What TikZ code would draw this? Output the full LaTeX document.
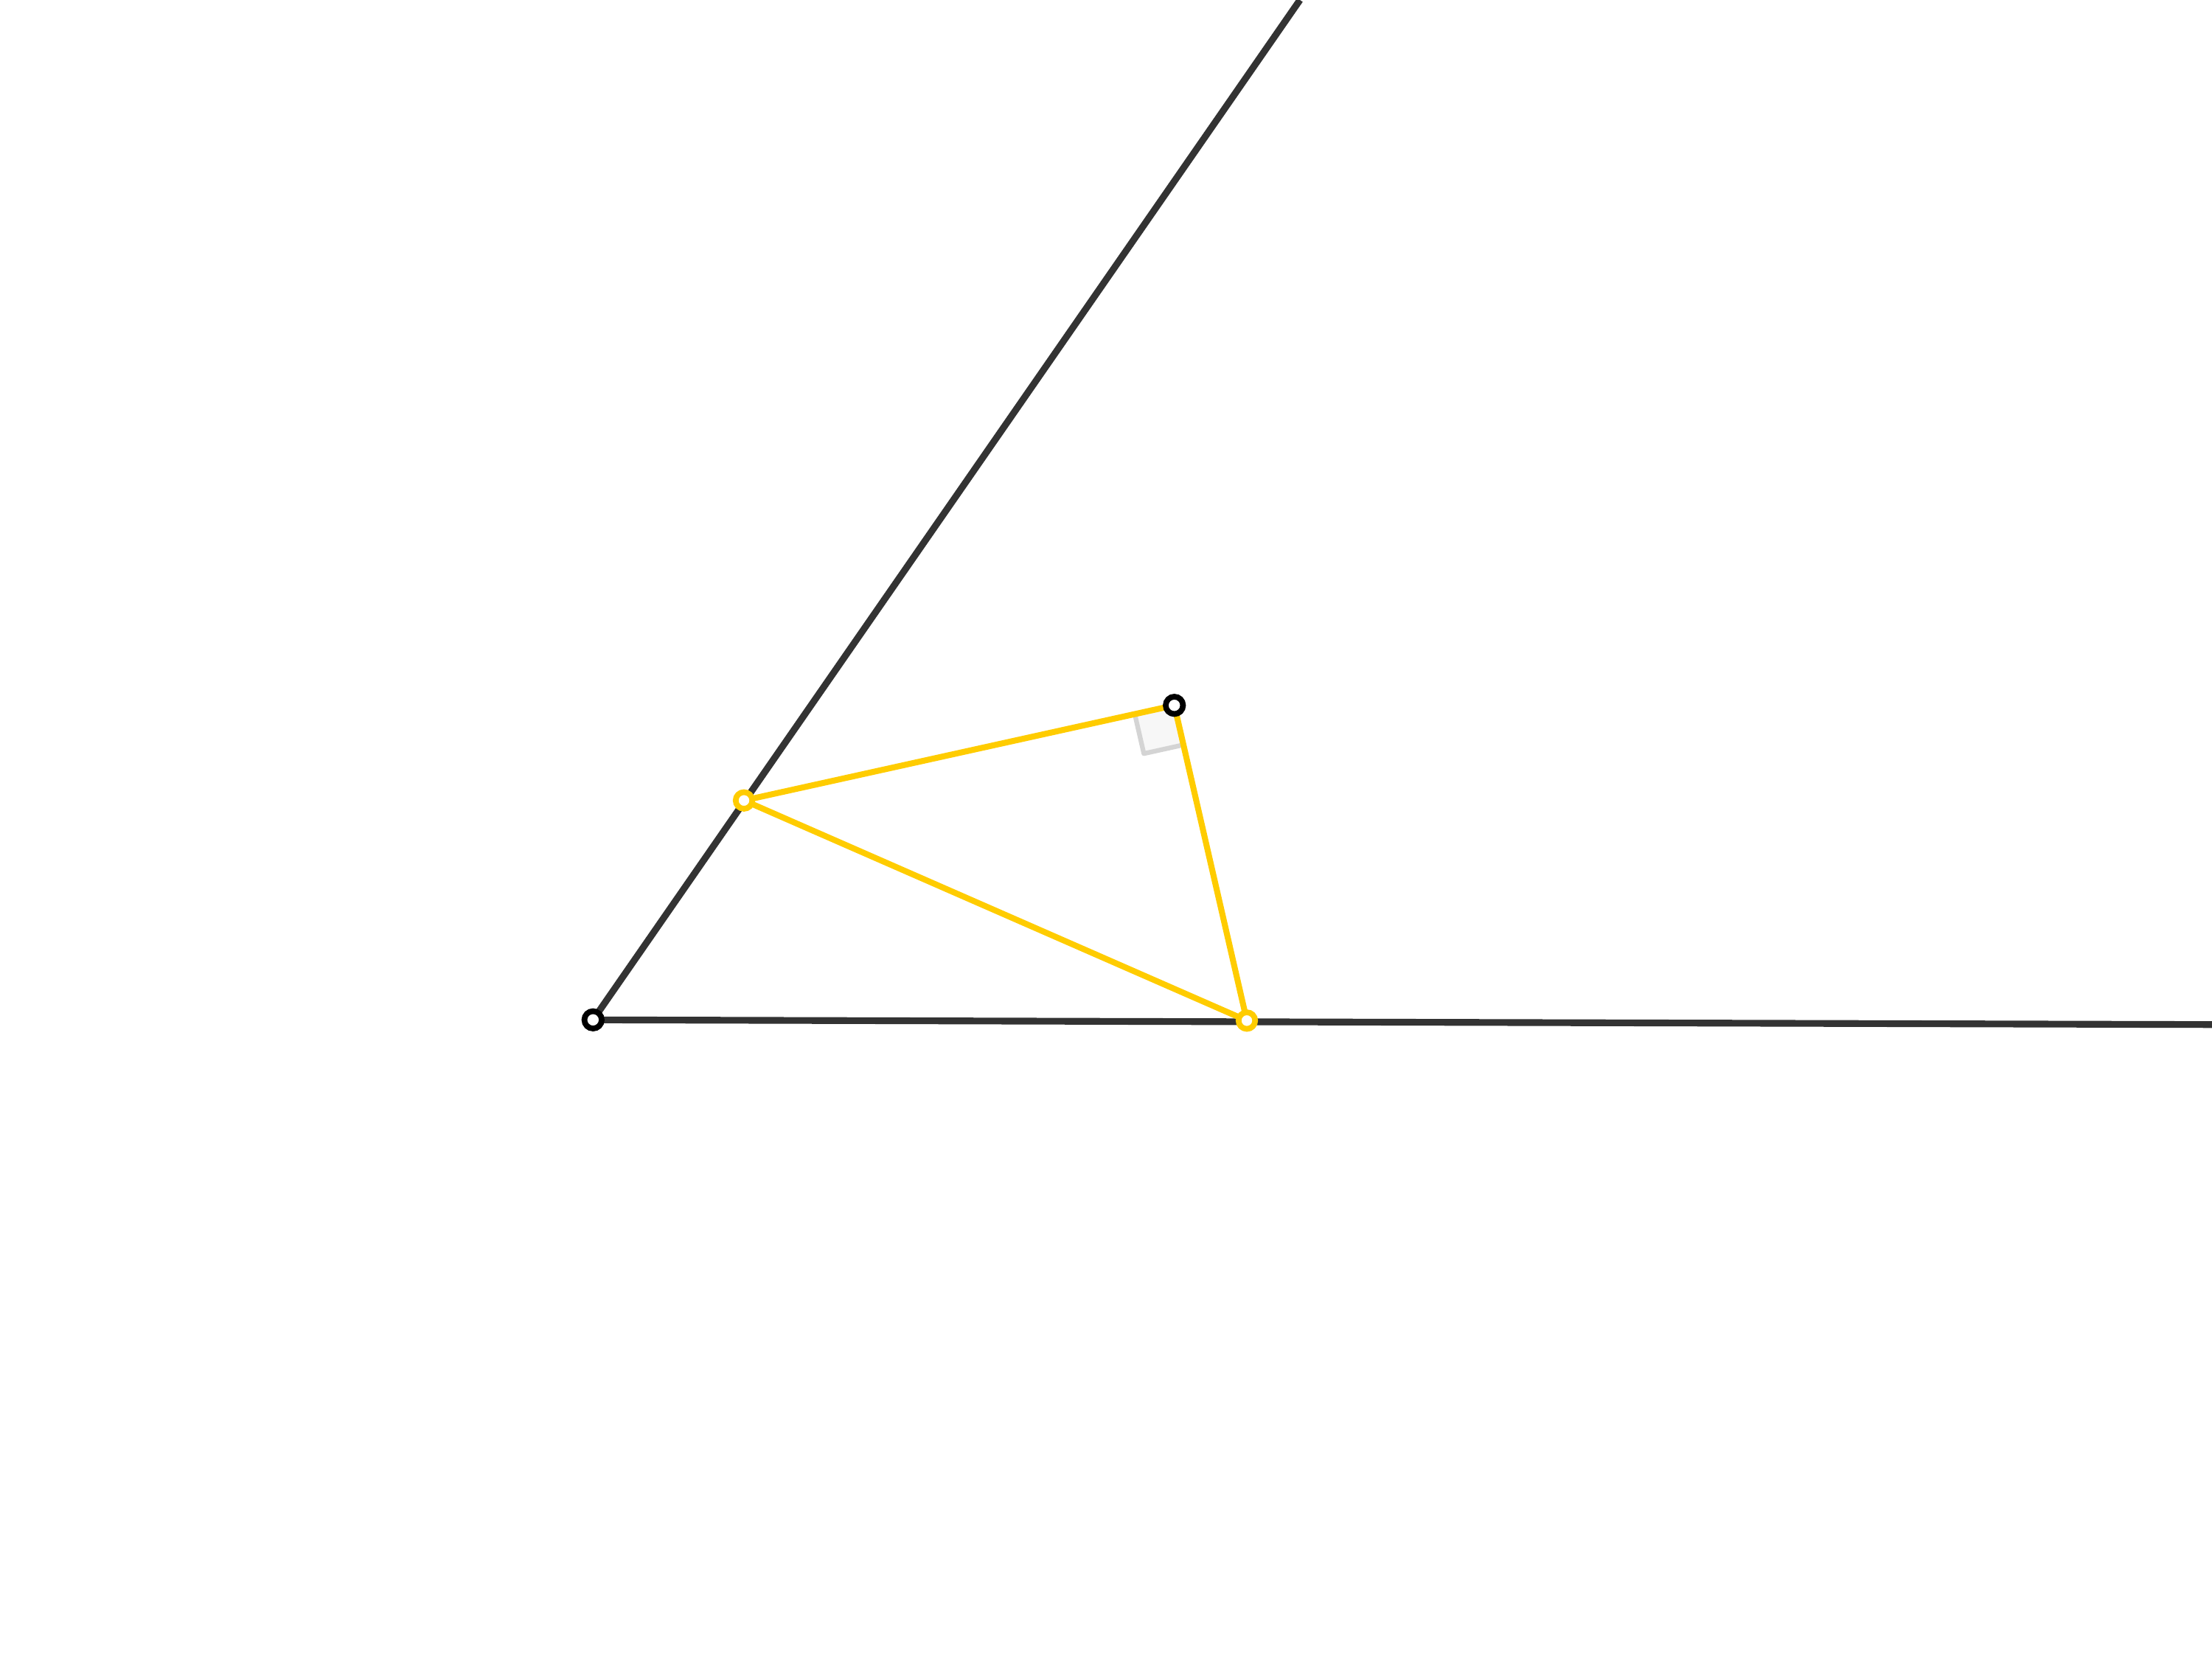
\documentclass[tikz,border=0pt]{standalone}
\usetikzlibrary{calc}
\definecolor{raycol}{HTML}{333333}
\definecolor{segcol}{HTML}{FFCC00}
\definecolor{markline}{HTML}{D4D4D4}
\definecolor{markfill}{HTML}{F7F7F7}
\tikzset{
  ray/.style={draw=raycol, line width=2.6pt},
  seg/.style={draw=segcol, line width=2.3pt, line cap=round},
  ptblack/.style={circle, draw=black, fill=white, line width=2.2pt, minimum size=0.235cm, inner sep=0pt},
  ptyellow/.style={circle, draw=segcol, fill=white, line width=2.2pt, minimum size=0.225cm, inner sep=0pt}
}
\begin{document}
\begin{tikzpicture}
\useasboundingbox (0,0) rectangle (30,-22.75);
\coordinate (O) at (8.043,-13.833);
\coordinate (T) at (17.63,0);
\coordinate (R) at (30,-13.897);
\coordinate (A) at (10.09,-10.857);
\coordinate (P) at (15.927,-9.567);
\coordinate (B) at (16.91,-13.843);
% rays
\draw[ray] (O) -- (T);
\draw[ray] (O) -- (R);
% right-angle mark
\coordinate (M1) at ($(P)!0.55cm!(A)$);
\coordinate (M2) at ($(P)!0.55cm!(B)$);
\coordinate (M3) at ($(M1)+(M2)-(P)$);
\fill[markfill] (P) -- (M1) -- (M3) -- (M2) -- cycle;
\draw[markline, line width=1.8pt, line join=round, line cap=round] (M1) -- (M3) -- (M2);
% triangle
\draw[seg] (A) -- (P);
\draw[seg] (P) -- (B);
\draw[seg] (A) -- (B);
% points
\node[ptblack] (nO) at (O) {};
\node[ptblack] (nP) at (P) {};
\node[ptyellow] (nA) at (A) {};
\node[ptyellow] (nB) at (B) {};
\end{tikzpicture}
\end{document}
